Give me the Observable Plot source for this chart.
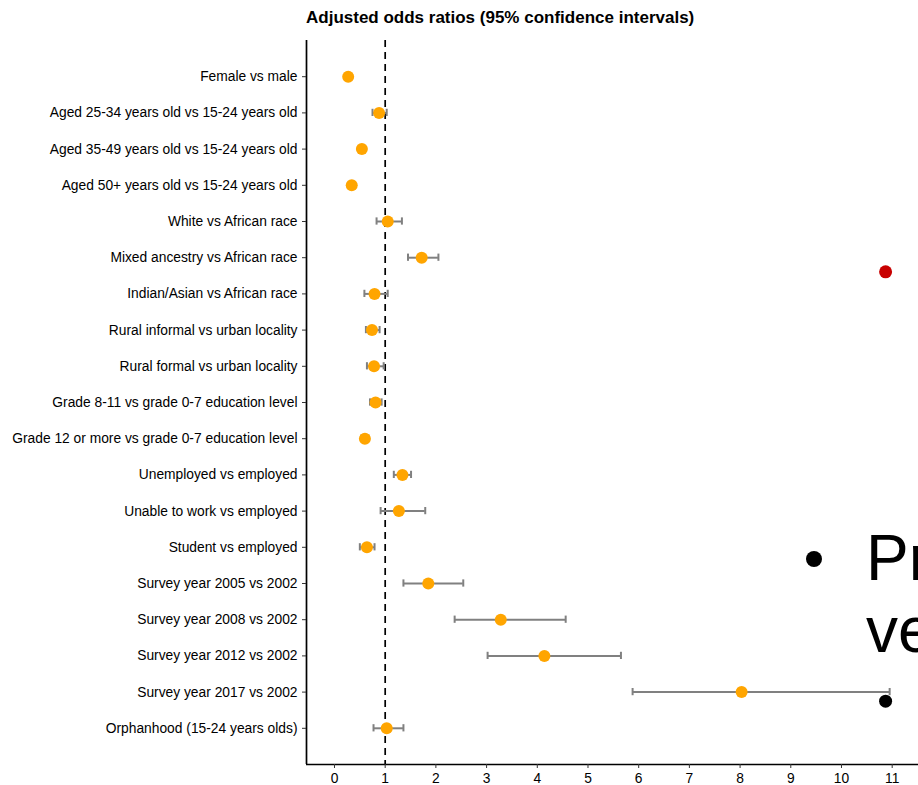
<!DOCTYPE html>
<html>
<head>
<meta charset="utf-8">
<script src="https://cdn.jsdelivr.net/npm/d3@7"></script>
<script src="https://cdn.jsdelivr.net/npm/@observablehq/plot@0.6"></script>
<style>
  html, body { margin: 0; padding: 0; background: #fff; overflow: hidden; }
  #wrap { position: relative; width: 918px; height: 785px; overflow: hidden; font-family: "Liberation Sans", Arial, sans-serif; }
  #title { position: absolute; left: 306px; top: 8px; font-size: 17px; font-weight: bold; color: #000; white-space: nowrap; }
  #legend { position: absolute; left: 0; top: 0; width: 918px; height: 785px; pointer-events: none; overflow: hidden; }
  #legend .key { position: absolute; left: 806px; top: 551px; width: 16px; height: 16px; border-radius: 50%; background: #000; }
  #legend .lab { position: absolute; left: 866px; top: 522px; font-size: 64px; line-height: 72px; color: #000; white-space: nowrap; }
</style>
</head>
<body>
<div id="wrap">
  <div id="chart"></div>
  <div id="title">Adjusted odds ratios (95% confidence intervals)</div>
  <div id="legend"><div class="key"></div><div class="lab">Pr<br>ve</div></div>
</div>
<script>
const categories = [
  "Female vs male",
  "Aged 25-34 years old vs 15-24 years old",
  "Aged 35-49 years old vs 15-24 years old",
  "Aged 50+ years old vs 15-24 years old",
  "White vs African race",
  "Mixed ancestry vs African race",
  "Indian/Asian vs African race",
  "Rural informal vs urban locality",
  "Rural formal vs urban locality",
  "Grade 8-11 vs grade 0-7 education level",
  "Grade 12 or more vs grade 0-7 education level",
  "Unemployed vs employed",
  "Unable to work vs employed",
  "Student vs employed",
  "Survey year 2005 vs 2002",
  "Survey year 2008 vs 2002",
  "Survey year 2012 vs 2002",
  "Survey year 2017 vs 2002",
  "Orphanhood (15-24 years olds)"
];
const oddsRatio = [0.27, 0.88, 0.54, 0.34, 1.05, 1.72, 0.79, 0.74, 0.78, 0.81, 0.60, 1.34, 1.27, 0.64, 1.85, 3.28, 4.14, 8.03, 1.03];
const ciLow     = [0.24, 0.75, 0.49, 0.30, 0.83, 1.45, 0.59, 0.62, 0.64, 0.70, 0.53, 1.17, 0.91, 0.50, 1.36, 2.37, 3.02, 5.88, 0.77];
const ciHigh    = [0.30, 1.03, 0.59, 0.38, 1.33, 2.05, 1.05, 0.89, 0.97, 0.93, 0.67, 1.51, 1.79, 0.79, 2.54, 4.56, 5.65, 10.95, 1.36];

// stray points drawn in the panel (x value, row position)
const extraX = [10.87, 10.87];
const extraRow = [5.39, 17.25];
const extraColor = ["#c80000", "#000000"];

const xTicks = [0, 1, 2, 3, 4, 5, 6, 7, 8, 9, 10, 11];
const nullValue = 1;

const rows = categories.map((c, i) => ({
  i, label: c, or: oddsRatio[i], lo: ciLow[i], hi: ciHigh[i]
}));
const extras = extraX.map((x, k) => ({x, y: extraRow[k], c: extraColor[k]}));

const xDomain = [-0.552, 11.519];
const yDomain = [-1, categories.length];
const capHalf = 0.1;

const chart = Plot.plot({
  width: 918,
  height: 785,
  marginTop: 40,
  marginBottom: 21,
  marginLeft: 306,
  marginRight: 0,
  style: {fontFamily: "Liberation Sans, Arial, sans-serif", fontSize: "13.8px", color: "#000", background: "#fff"},
  x: {domain: xDomain, label: null},
  y: {domain: yDomain, reverse: true, label: null},
  marks: [
    Plot.ruleX([nullValue], {stroke: "#000", strokeWidth: 1.7, strokeDasharray: "7,5"}),
    Plot.ruleY(rows, {y: "i", x1: "lo", x2: "hi", stroke: "#808080", strokeWidth: 2}),
    Plot.ruleX(rows, {x: "lo", y1: d => d.i - capHalf, y2: d => d.i + capHalf, stroke: "#808080", strokeWidth: 2}),
    Plot.ruleX(rows, {x: "hi", y1: d => d.i - capHalf, y2: d => d.i + capHalf, stroke: "#808080", strokeWidth: 2}),
    Plot.dot(rows, {x: "or", y: "i", r: 6, fill: "#FFA500", stroke: "none"}),
    Plot.dot(extras, {x: "x", y: "y", r: 6.5, fill: "c", stroke: "none"}),
    Plot.ruleX([xDomain[0]], {stroke: "#000", strokeWidth: 1.7}),
    Plot.ruleY([yDomain[1]], {stroke: "#000", strokeWidth: 1.7}),
    Plot.axisY({ticks: rows.map(d => d.i), tickFormat: i => categories[i], tickSize: 4, tickPadding: 5, fontSize: 13.8, stroke: "#333", fill: "#000", label: null}),
    Plot.axisX({ticks: xTicks, tickFormat: d3.format("d"), tickSize: 4, tickPadding: 5, fontSize: 13.8, stroke: "#333", fill: "#000", label: null})
  ]
});
document.getElementById("chart").appendChild(chart);
</script>
</body>
</html>
